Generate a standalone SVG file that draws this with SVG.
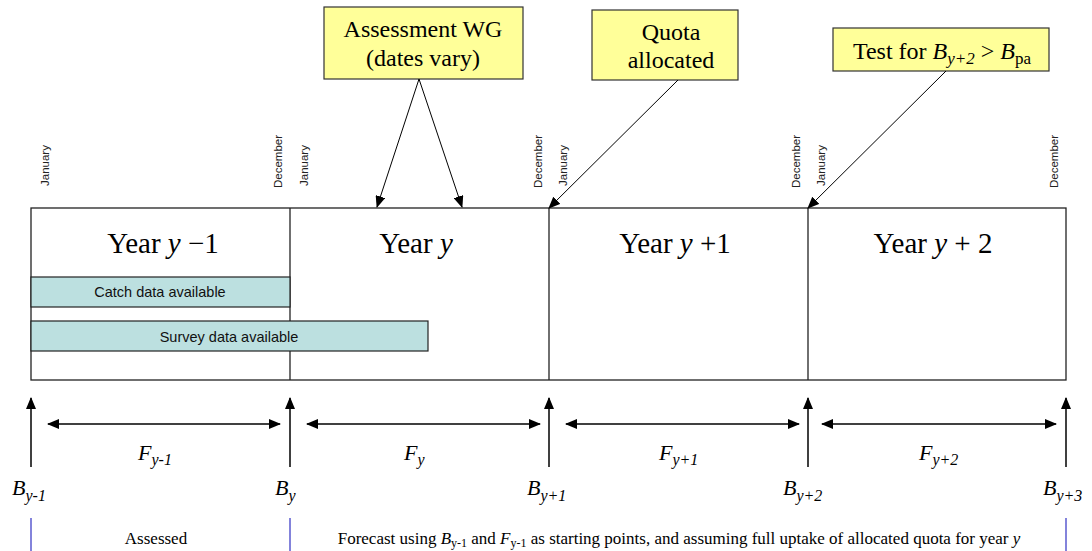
<svg xmlns="http://www.w3.org/2000/svg" width="1092" height="551" viewBox="0 0 1092 551">
<defs>
<marker id="ah" markerUnits="userSpaceOnUse" markerWidth="12" markerHeight="10" refX="11" refY="5" orient="auto-start-reverse" viewBox="0 0 12 10">
<path d="M0,0 L12,5 L0,10 Z" fill="#000"/>
</marker>
<style>
.tm{font-family:"Liberation Serif","Times New Roman","DejaVu Serif",serif;fill:#000}
.ar{font-family:"Liberation Sans",Arial,sans-serif;fill:#111}
.mon{font-family:"Liberation Sans",Arial,sans-serif;font-size:11.5px;fill:#222}
.note{fill:#FFFF99;stroke:#333;stroke-width:1.2}
.bar{fill:#BCE0E0;stroke:#222;stroke-width:1.2}
.frame{fill:#fff;stroke:#222;stroke-width:1.3}
.conn{stroke:#000;stroke-width:1;fill:none}
.tick{stroke:#000;stroke-width:1.5;fill:none}
.blue{stroke:#5A5ACF;stroke-width:1.5}
.it{font-style:italic}
</style>
</defs>
<rect width="1092" height="551" fill="#fff"/>

<g id="timeline">
<rect class="frame" x="31" y="208" width="1035" height="172"/>
<line x1="290" y1="208" x2="290" y2="380" stroke="#222" stroke-width="1.3"/>
<line x1="549" y1="208" x2="549" y2="380" stroke="#222" stroke-width="1.3"/>
<line x1="808" y1="208" x2="808" y2="380" stroke="#222" stroke-width="1.3"/>
<text class="tm" font-family="Liberation Serif, serif" x="163" y="253" font-size="29" text-anchor="middle">Year <tspan class="it">y</tspan> −1</text>
<text class="tm" font-family="Liberation Serif, serif" x="416" y="253" font-size="29" text-anchor="middle">Year <tspan class="it">y</tspan></text>
<text class="tm" font-family="Liberation Serif, serif" x="675" y="253" font-size="29" text-anchor="middle">Year <tspan class="it">y</tspan> +1</text>
<text class="tm" font-family="Liberation Serif, serif" x="933" y="253" font-size="29" text-anchor="middle">Year <tspan class="it">y</tspan> + 2</text>
</g>

<g id="months">
<text class="mon" transform="translate(49,186) rotate(-90)">January</text>
<text class="mon" transform="translate(282,188) rotate(-90)">December</text>
<text class="mon" transform="translate(308,186) rotate(-90)">January</text>
<text class="mon" transform="translate(542,188) rotate(-90)">December</text>
<text class="mon" transform="translate(567,186) rotate(-90)">January</text>
<text class="mon" transform="translate(800,188) rotate(-90)">December</text>
<text class="mon" transform="translate(825,186) rotate(-90)">January</text>
<text class="mon" transform="translate(1058,188) rotate(-90)">December</text>
</g>

<g id="catch-bar">
<rect class="bar" x="31" y="277" width="259" height="30"/>
<text class="ar" x="160" y="297" font-size="14.5" text-anchor="middle">Catch data available</text>
</g>
<g id="survey-bar">
<rect class="bar" x="31" y="321" width="397" height="30"/>
<text class="ar" x="229" y="342" font-size="14.5" text-anchor="middle">Survey data available</text>
</g>

<g id="assessment-wg">
<rect class="note" x="324" y="7" width="199" height="72"/>
<text class="tm" font-family="Liberation Serif, serif" x="423" y="37" font-size="24" text-anchor="middle">Assessment WG</text>
<text class="tm" font-family="Liberation Serif, serif" x="423" y="66" font-size="24" text-anchor="middle">(dates vary)</text>
</g>
<g id="quota">
<rect class="note" x="592" y="10" width="146" height="70"/>
<text class="tm" font-family="Liberation Serif, serif" x="671" y="40" font-size="24" text-anchor="middle">Quota</text>
<text class="tm" font-family="Liberation Serif, serif" x="671" y="68" font-size="24" text-anchor="middle">allocated</text>
</g>
<g id="test">
<rect class="note" x="833" y="28" width="216" height="43"/>
<text class="tm" font-family="Liberation Serif, serif" x="942" y="59" font-size="24" text-anchor="middle">Test for <tspan class="it">B</tspan><tspan class="it" font-size="17" dy="5">y+2</tspan><tspan dy="-5"> &gt; </tspan><tspan class="it">B</tspan><tspan font-size="17" dy="5">pa</tspan></text>
</g>

<g id="connectors">
<line class="conn" x1="419" y1="79" x2="377" y2="207" marker-end="url(#ah)"/>
<line class="conn" x1="419" y1="79" x2="462" y2="207" marker-end="url(#ah)"/>
<line class="conn" x1="678" y1="80" x2="549" y2="208" marker-end="url(#ah)"/>
<line class="conn" x1="946" y1="71" x2="808" y2="208" marker-end="url(#ah)"/>
<line class="tick" x1="31" y1="467" x2="31" y2="398" marker-end="url(#ah)"/>
<line class="tick" x1="290" y1="467" x2="290" y2="398" marker-end="url(#ah)"/>
<line class="tick" x1="549" y1="467" x2="549" y2="398" marker-end="url(#ah)"/>
<line class="tick" x1="808" y1="467" x2="808" y2="398" marker-end="url(#ah)"/>
<line class="tick" x1="1066" y1="467" x2="1066" y2="398" marker-end="url(#ah)"/>
<line class="tick" x1="48" y1="424" x2="280" y2="424" marker-start="url(#ah)" marker-end="url(#ah)"/>
<line class="tick" x1="307" y1="424" x2="540" y2="424" marker-start="url(#ah)" marker-end="url(#ah)"/>
<line class="tick" x1="566" y1="424" x2="799" y2="424" marker-start="url(#ah)" marker-end="url(#ah)"/>
<line class="tick" x1="822" y1="424" x2="1056" y2="424" marker-start="url(#ah)" marker-end="url(#ah)"/>
<line class="blue" x1="31" y1="518" x2="31" y2="551"/>
<line class="blue" x1="290" y1="518" x2="290" y2="551"/>
<line class="blue" x1="1066" y1="518" x2="1066" y2="551"/>
</g>

<g id="f-labels">
<text class="tm it" font-family="Liberation Serif, serif" x="138" y="460" font-size="22">F<tspan font-size="16" dy="5">y-1</tspan></text>
<text class="tm it" font-family="Liberation Serif, serif" x="404" y="460" font-size="22">F<tspan font-size="16" dy="5">y</tspan></text>
<text class="tm it" font-family="Liberation Serif, serif" x="659" y="460" font-size="22">F<tspan font-size="16" dy="5">y+1</tspan></text>
<text class="tm it" font-family="Liberation Serif, serif" x="919" y="460" font-size="22">F<tspan font-size="16" dy="5">y+2</tspan></text>
</g>

<g id="b-labels">
<text class="tm it" font-family="Liberation Serif, serif" x="12" y="495" font-size="22">B<tspan font-size="16" dy="6">y-1</tspan></text>
<text class="tm it" font-family="Liberation Serif, serif" x="275" y="495" font-size="22">B<tspan font-size="16" dy="6">y</tspan></text>
<text class="tm it" font-family="Liberation Serif, serif" x="527" y="495" font-size="22">B<tspan font-size="16" dy="6">y+1</tspan></text>
<text class="tm it" font-family="Liberation Serif, serif" x="783" y="495" font-size="22">B<tspan font-size="16" dy="6">y+2</tspan></text>
<text class="tm it" font-family="Liberation Serif, serif" x="1043" y="495" font-size="22">B<tspan font-size="16" dy="6">y+3</tspan></text>
</g>

<g id="bottom-notes">
<text class="tm" font-family="Liberation Serif, serif" x="156" y="544" font-size="17" text-anchor="middle">Assessed</text>
<text class="tm" font-family="Liberation Serif, serif" x="679" y="544" font-size="17" text-anchor="middle">Forecast using <tspan class="it">B</tspan><tspan font-size="12" dy="3">y-1</tspan><tspan dy="-3"> and </tspan><tspan class="it">F</tspan><tspan font-size="12" dy="3">y-1</tspan><tspan dy="-3"> as starting points, and assuming full uptake of allocated quota for year </tspan><tspan class="it">y</tspan></text>
</g>
</svg>
